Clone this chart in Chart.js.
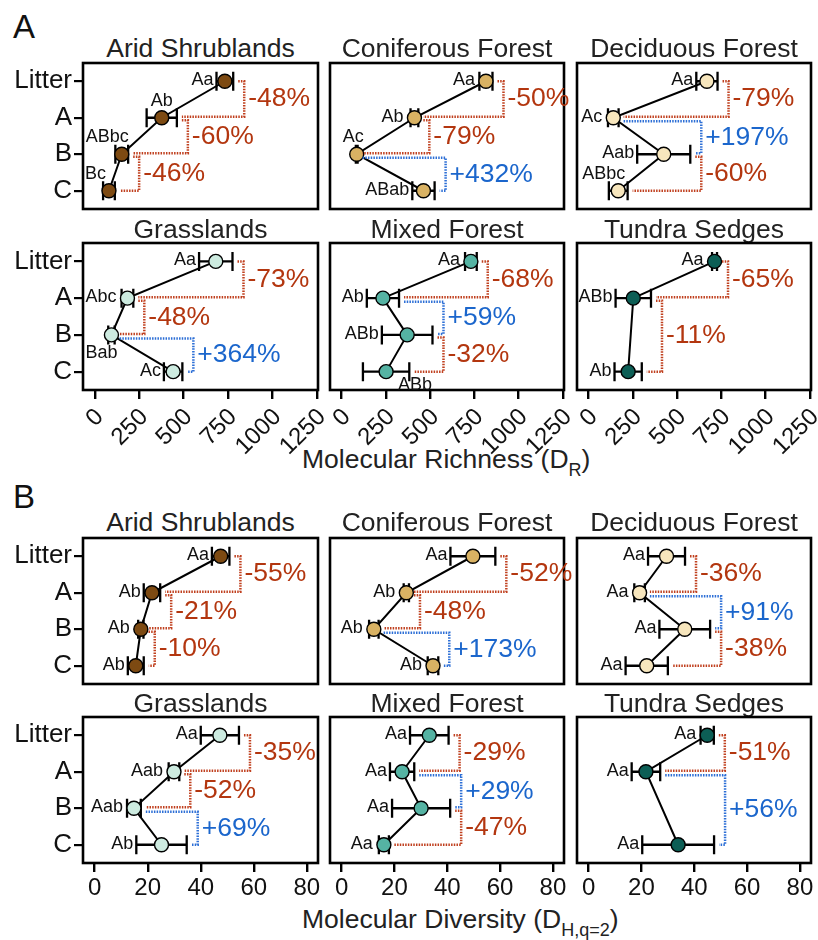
<!DOCTYPE html>
<html><head><meta charset="utf-8">
<script src="https://cdn.jsdelivr.net/npm/chart.js@4.4.1/dist/chart.umd.min.js"></script>
<style>
html,body{margin:0;padding:0;background:#fff;}
body{width:818px;height:940px;position:relative;overflow:hidden;font-family:"Liberation Sans",Arial,Helvetica,sans-serif;}
.ptitle{position:absolute;text-align:center;font-size:26.5px;color:#222;line-height:30px;height:30px;white-space:nowrap;}
.sect{position:absolute;font-size:33px;color:#111;line-height:33px;}
.axt{position:absolute;font-size:26.5px;color:#222;white-space:nowrap;line-height:30px;}
.axt sub{font-size:18px;vertical-align:-8px;line-height:0;}
canvas{position:absolute;}
</style></head><body>
<div class="sect" style="left:13px;top:10px">A</div>
<div class="sect" style="left:13px;top:480px">B</div>
<div class="axt" style="left:302px;top:444px">Molecular Richness (D<sub>R</sub>)</div>
<div class="axt" style="left:302px;top:904px">Molecular Diversity (D<sub>H,q=2</sub>)</div>
<script>
// ---------------- DATA ----------------
const categories = ['Litter', 'A', 'B', 'C'];
const biomeNames = ['Arid Shrublands', 'Coniferous Forest', 'Deciduous Forest', 'Grasslands', 'Mixed Forest', 'Tundra Sedges'];
const richnessTicks = [0, 250, 500, 750, 1000, 1250];
const diversityTicks = [0, 20, 40, 60, 80];

// Panel A: Molecular Richness (D_R) - mean, error, letters, % changes
const richAridMean = [732, 377, 152, 80];
const richAridErr = [47, 85, 36, 33];
const richAridLetters = ['Aa', 'Ab', 'ABbc', 'Bc'];
const richAridChanges = ['-48%', '-60%', '-46%'];

const richConifMean = [815, 411, 85, 462];
const richConifErr = [37, 22, 5, 63];
const richConifLetters = ['Aa', 'Ab', 'Ac', 'ABab'];
const richConifChanges = ['-50%', '-79%', '+432%'];

const richDecidMean = [668, 139, 424, 167];
const richDecidErr = [60, 30, 150, 53];
const richDecidLetters = ['Aa', 'Ac', 'Aab', 'ABbc'];
const richDecidChanges = ['-79%', '+197%', '-60%'];

const richGrassMean = [681, 184, 94, 441];
const richGrassErr = [94, 33, 18, 52];
const richGrassLetters = ['Aa', 'Abc', 'Bab', 'Ac'];
const richGrassChanges = ['-73%', '-48%', '+364%'];

const richMixedMean = [730, 233, 370, 251];
const richMixedErr = [33, 91, 143, 131];
const richMixedLetters = ['Aa', 'Ab', 'ABb', 'ABb'];
const richMixedChanges = ['-68%', '+59%', '-32%'];

const richTundraMean = [711, 252, null, 223];
const richTundraErr = [14, 100, null, 77];
const richTundraLetters = ['Aa', 'ABb', null, 'Ab'];
const richTundraChanges = ['-65%', '-11%'];

// Panel B: Molecular Diversity (D_H,q=2)
const divAridMean = [47.5, 21.6, 17.4, 15.5];
const divAridErr = [3.3, 3.1, 1.0, 3.0];
const divAridLetters = ['Aa', 'Ab', 'Ab', 'Ab'];
const divAridChanges = ['-55%', '-21%', '-10%'];

const divConifMean = [49.7, 24.5, 12.2, 34.6];
const divConifErr = [8.5, 1.0, 1.8, 2.0];
const divConifLetters = ['Aa', 'Ab', 'Ab', 'Ab'];
const divConifChanges = ['-52%', '-48%', '+173%'];

const divDecidMean = [29.5, 19.3, 36.4, 22.0];
const divDecidErr = [7.0, 2.0, 9.6, 8.0];
const divDecidLetters = ['Aa', 'Aa', 'Aa', 'Aa'];
const divDecidChanges = ['-36%', '+91%', '-38%'];

const divGrassMean = [47.2, 29.9, 14.8, 25.2];
const divGrassErr = [7.2, 2.0, 2.6, 9.5];
const divGrassLetters = ['Aa', 'Aab', 'Aab', 'Ab'];
const divGrassChanges = ['-35%', '-52%', '+69%'];

const divMixedMean = [33.2, 22.9, 30.1, 16.0];
const divMixedErr = [7.3, 4.6, 11.0, 1.9];
const divMixedLetters = ['Aa', 'Aa', 'Aa', 'Aa'];
const divMixedChanges = ['-29%', '+29%', '-47%'];

const divTundraMean = [44.9, 21.7, null, 33.9];
const divTundraErr = [2.5, 5.4, null, 13.6];
const divTundraLetters = ['Aa', 'Aa', null, 'Aa'];
const divTundraChanges = ['-51%', '+56%'];

// ---------------- STYLE / LAYOUT ----------------
const FONT = '"Liberation Sans", Arial, Helvetica, sans-serif';
const biomeColors = ['#7d4a12', '#d9b263', '#f7e6bd', '#cdebe0', '#55b3a3', '#0c5e55'];
const RED_TXT = '#b3360f', BLUE_TXT = '#1b66cc';
const RED_LN = '#c0401f', BLUE_LN = '#2d6fd6';
const PADL = 90, PADT = 20, PADR = 60, PADB = 80;
const COLS = [[83, 318], [330, 564], [577, 811]];
// letter placement hints: l = left of error bar, t = above, tl / tL = above-left, bl = below-left, br = below-right
const richPlace = [['l','t','tl','tL'], ['l','l','tl','l'], ['l','l','l','tl'], ['l','l','bl','l'], ['l','l','l','br'], ['l','l','l','l']];
const divPlace = [['l','l','l','l'], ['l','l','l','l'], ['l','l','l','l'], ['l','l','l','l'], ['l','l','l','l'], ['l','l','l','l']];

const sections = [
  { rows: [[63, 209], [243, 390]], titleY: [48, 229], ticks: richnessTicks, min: -66, max: 1256, rot: 45, place: richPlace,
    panels: [
      [richAridMean, richAridErr, richAridLetters, richAridChanges],
      [richConifMean, richConifErr, richConifLetters, richConifChanges],
      [richDecidMean, richDecidErr, richDecidLetters, richDecidChanges],
      [richGrassMean, richGrassErr, richGrassLetters, richGrassChanges],
      [richMixedMean, richMixedErr, richMixedLetters, richMixedChanges],
      [richTundraMean, richTundraErr, richTundraLetters, richTundraChanges]
    ] },
  { rows: [[538, 684], [717, 863]], titleY: [522, 703], ticks: diversityTicks, min: -4.4, max: 84.2, rot: 0, place: divPlace,
    panels: [
      [divAridMean, divAridErr, divAridLetters, divAridChanges],
      [divConifMean, divConifErr, divConifLetters, divConifChanges],
      [divDecidMean, divDecidErr, divDecidLetters, divDecidChanges],
      [divGrassMean, divGrassErr, divGrassLetters, divGrassChanges],
      [divMixedMean, divMixedErr, divMixedLetters, divMixedChanges],
      [divTundraMean, divTundraErr, divTundraLetters, divTundraChanges]
    ] }
];

function marksPlugin(mean, err, letters, changes, place) {
  return {
    id: 'marks',
    beforeDatasetsDraw(chart) {
      const ctx = chart.ctx, xs = chart.scales.x, ys = chart.scales.y;
      ctx.save();
      ctx.strokeStyle = '#000'; ctx.lineWidth = 2.3;
      mean.forEach((m, i) => {
        if (m == null) return;
        const y = ys.getPixelForValue(i);
        const xl = xs.getPixelForValue(m - err[i]), xr = xs.getPixelForValue(m + err[i]);
        ctx.beginPath();
        ctx.moveTo(xl, y); ctx.lineTo(xr, y);
        ctx.moveTo(xl, y - 9.5); ctx.lineTo(xl, y + 9.5);
        ctx.moveTo(xr, y - 9.5); ctx.lineTo(xr, y + 9.5);
        ctx.stroke();
      });
      ctx.restore();
    },
    afterDatasetsDraw(chart) {
      const ctx = chart.ctx, xs = chart.scales.x, ys = chart.scales.y, a = chart.chartArea;
      ctx.save();
      // frame
      ctx.strokeStyle = '#000'; ctx.lineWidth = 2.6;
      ctx.strokeRect(a.left, a.top, a.right - a.left, a.bottom - a.top);
      // letters
      ctx.fillStyle = '#111';
      ctx.font = '18px ' + FONT;
      ctx.textBaseline = 'middle';
      mean.forEach((m, i) => {
        if (m == null || !letters[i]) return;
        const px = xs.getPixelForValue(m), py = ys.getPixelForValue(i);
        const xl = Math.min(xs.getPixelForValue(m - err[i]), px - 8);
        const p = place[i];
        if (p === 'l') { ctx.textAlign = 'right'; ctx.fillText(letters[i], xl - 3, py - 1); }
        else if (p === 't') { ctx.textAlign = 'center'; ctx.fillText(letters[i], px, py - 17); }
        else if (p === 'tl') { ctx.textAlign = 'right'; ctx.fillText(letters[i], px + 7, py - 17); }
        else if (p === 'tL') { ctx.textAlign = 'right'; ctx.fillText(letters[i], px - 3, py - 17); }
        else if (p === 'bl') { ctx.textAlign = 'right'; ctx.fillText(letters[i], px + 6, py + 18); }
        else if (p === 'br') { ctx.textAlign = 'left'; ctx.fillText(letters[i], px + 12, py + 13); }
      });
      // brackets with % change
      const idx = mean.map((m, i) => (m == null ? -1 : i)).filter(i => i >= 0);
      for (let k = 0; k < idx.length - 1; k++) {
        const i1 = idx[k], i2 = idx[k + 1];
        const r1 = xs.getPixelForValue(mean[i1] + err[i1]);
        const r2 = xs.getPixelForValue(mean[i2] + err[i2]);
        const vx = Math.max(r1, r2) + 11;
        const label = changes[k];
        const pos = label.charAt(0) === '+';
        const y1 = ys.getPixelForValue(i1) + (k > 0 ? (pos ? 3.5 : 2.5) : 0);
        const y2 = ys.getPixelForValue(i2) - (k < idx.length - 2 ? 1 : 0);
        ctx.strokeStyle = pos ? BLUE_LN : RED_LN;
        ctx.lineWidth = 2.5;
        ctx.setLineDash([1.5, 1.2]);
        ctx.beginPath();
        ctx.moveTo(r1 + 5, y1); ctx.lineTo(vx, y1); ctx.lineTo(vx, y2); ctx.lineTo(r2 + 5, y2);
        ctx.stroke();
        ctx.setLineDash([]);
        ctx.fillStyle = pos ? BLUE_TXT : RED_TXT;
        ctx.font = '26.5px ' + FONT;
        ctx.textAlign = 'left'; ctx.textBaseline = 'middle';
        ctx.fillText(label, vx + 4, (y1 + y2) / 2);
      }
      ctx.restore();
    }
  };
}

sections.forEach((sec) => {
  sec.panels.forEach((pd, pi) => {
    const col = pi % 3, row = Math.floor(pi / 3);
    const [fl, fr] = COLS[col];
    const [ft, fb] = sec.rows[row];
    // title
    const t = document.createElement('div');
    t.className = 'ptitle';
    t.style.left = fl + 'px'; t.style.width = (fr - fl) + 'px'; t.style.top = (sec.titleY[row] - 15) + 'px';
    t.textContent = biomeNames[pi];
    document.body.appendChild(t);
    // canvas
    const W = fr - fl + PADL + PADR, H = fb - ft + PADT + PADB;
    const c = document.createElement('canvas');
    c.width = W; c.height = H;
    c.style.left = (fl - PADL) + 'px'; c.style.top = (ft - PADT) + 'px';
    c.style.width = W + 'px'; c.style.height = H + 'px';
    document.body.appendChild(c);
    const showX = row === 1, showY = col === 0;
    const [mean, err, letters, changes] = pd;
    new Chart(c, {
      type: 'line',
      data: { labels: categories, datasets: [{
        data: mean, borderColor: '#000', borderWidth: 2,
        pointRadius: 7, pointHoverRadius: 7, pointBackgroundColor: biomeColors[pi],
        pointBorderColor: '#000', pointBorderWidth: 1.4, spanGaps: true, tension: 0, fill: false, clip: false
      }] },
      options: {
        indexAxis: 'y', responsive: false, animation: false, devicePixelRatio: 1, events: [],
        layout: { padding: { left: 0, top: PADT, right: PADR, bottom: 0 } },
        plugins: { legend: { display: false }, tooltip: { enabled: false }, title: { display: false } },
        scales: {
          x: {
            type: 'linear', position: 'bottom', min: sec.min, max: sec.max,
            afterBuildTicks: s => { s.ticks = sec.ticks.map(v => ({ value: v })); },
            afterFit: s => { s.height = PADB; },
            grid: { display: showX, drawOnChartArea: false, drawTicks: true, tickLength: 9, color: '#000', lineWidth: 2.4 },
            border: { display: false },
            ticks: { display: showX, color: '#111', font: { size: 24, family: FONT }, minRotation: sec.rot, maxRotation: sec.rot,
                     padding: sec.rot ? 4 : 2, labelOffset: sec.rot ? 5 : 0, autoSkip: false, callback: v => String(v) }
          },
          y: {
            type: 'category', position: 'left', offset: true,
            afterFit: s => { s.width = PADL; },
            grid: { display: showY, drawOnChartArea: false, drawTicks: true, tickLength: 9, color: '#000', lineWidth: 2.2 },
            border: { display: false },
            ticks: { display: showY, color: '#111', font: { size: 26, family: FONT }, padding: 2, autoSkip: false }
          }
        }
      },
      plugins: [marksPlugin(mean, err, letters, changes, sec.place[pi])]
    });
  });
});
</script>
</body></html>
